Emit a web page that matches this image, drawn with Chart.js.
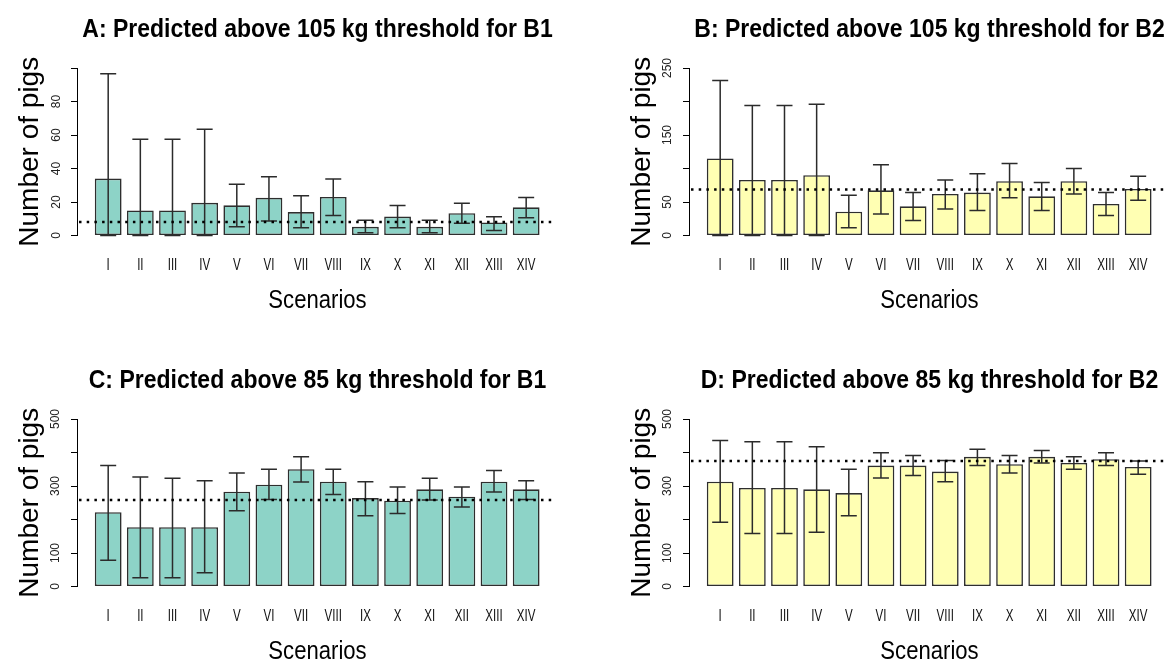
<!DOCTYPE html>
<html>
<head>
<meta charset="utf-8">
<script src="https://cdn.jsdelivr.net/npm/chart.js@4.4.1/dist/chart.umd.min.js"></script>
<style>
  html, body { margin: 0; padding: 0; background: #fff; overflow: hidden; }
  body { width: 1168px; height: 666px; position: relative; }
  canvas { position: absolute; }
</style>
</head>
<body>
<canvas id="chartA" width="612" height="351" style="left:0;top:0"></canvas>
<canvas id="chartB" width="612" height="351" style="left:612px;top:0"></canvas>
<canvas id="chartC" width="612" height="351" style="left:0;top:351px"></canvas>
<canvas id="chartD" width="612" height="351" style="left:612px;top:351px"></canvas>
<script>
// scenarios on the x axis
const scenarios = ['I', 'II', 'III', 'IV', 'V', 'VI', 'VII', 'VIII', 'IX', 'X', 'XI', 'XII', 'XIII', 'XIV'];

// A: above 105 kg, B1
const meanA = [34, 15, 15, 19.5, 18, 22.5, 14, 23, 5.2, 11.3, 5.2, 13.3, 7.8, 16.8];
const lowA  = [0, 0, 0, 0, 5.2, 8.7, 4.6, 12, 1.6, 4.6, 1.6, 7.3, 3, 10.6];
const highA = [96.5, 57.5, 57.5, 63.5, 30.6, 35.1, 23.8, 33.7, 9.1, 17.9, 9.1, 19.3, 11.2, 22.7];
const thrA = 8;

// B: above 105 kg, B2
const meanB = [115, 83, 83, 90, 35.5, 67.5, 43.5, 62, 64, 81, 58.5, 81, 47, 69.5];
const lowB  = [0, 0, 0, 0, 11.5, 32, 22.5, 39.5, 37.5, 56.5, 37.5, 62, 30, 52.5];
const highB = [231.5, 194, 194, 196, 60, 105.5, 64, 83, 92, 107.5, 79, 100, 64, 88.5];
const thrB = 68.5;

// C: above 85 kg, B1
const meanC = [222, 177, 177, 177, 283, 304, 350, 313, 264, 256, 290, 268, 313, 290];
const lowC  = [78, 26, 26, 41, 226, 260, 312, 275, 211, 218, 258, 237, 282, 260];
const highC = [361, 327, 323, 316, 339, 350, 387, 350, 313, 297, 323, 297, 346, 316];
const thrC = 258;

// D: above 85 kg, B2
const meanD = [313, 294, 294, 290, 279, 361, 361, 343, 387, 365, 387, 369, 380, 357];
const lowD  = [192, 158, 158, 162, 211, 324, 331, 313, 361, 339, 369, 350, 361, 335];
const highD = [436, 432, 432, 417, 350, 399, 391, 376, 410, 391, 406, 387, 399, 375];
const thrD = 375;

// y ticks (R drops labels that would overlap)
const yTicksA = [0, 20, 40, 60, 80, 100];
const yLabelsA = ['0', '20', '40', '60', '80', ''];
const yTicksB = [0, 50, 100, 150, 200, 250];
const yLabelsB = ['0', '50', '', '150', '', '250'];
const yTicksCD = [0, 100, 200, 300, 400, 500];
const yLabelsCD = ['0', '100', '', '300', '', '500'];

const regular = '"Liberation Sans", Arial, sans-serif';

// no narrow font installed, so squeeze horizontal text by hand
function squeezedText(ctx, text, x, y, font, sx) {
  ctx.save();
  ctx.font = font;
  ctx.textAlign = 'center';
  ctx.textBaseline = 'middle';
  ctx.translate(x, y);
  ctx.scale(sx, 1);
  ctx.fillText(text, 0, 0);
  ctx.restore();
}

// error bars, threshold line, x labels and panel title
const extras = {
  id: 'extras',
  afterDatasetsDraw(chart, args, opts) {
    const { ctx, chartArea, scales: { y } } = chart;
    const meta = chart.getDatasetMeta(0);
    ctx.save();
    ctx.strokeStyle = '#2b2b2b';
    ctx.lineWidth = 1.5;
    meta.data.forEach((bar, i) => {
      const lo = y.getPixelForValue(opts.low[i]);
      const hi = y.getPixelForValue(opts.high[i]);
      ctx.beginPath();
      ctx.moveTo(bar.x, lo); ctx.lineTo(bar.x, hi);
      ctx.moveTo(bar.x - 8, hi); ctx.lineTo(bar.x + 8, hi);
      ctx.moveTo(bar.x - 8, lo); ctx.lineTo(bar.x + 8, lo);
      ctx.stroke();
    });
    const ty = y.getPixelForValue(opts.threshold);
    ctx.strokeStyle = '#000';
    ctx.lineWidth = 2.5;
    ctx.setLineDash([2.5, 5.2]);
    ctx.beginPath();
    ctx.moveTo(chartArea.left + 2, ty);
    ctx.lineTo(chartArea.right + 3, ty);
    ctx.stroke();
    ctx.restore();
  },
  afterDraw(chart, args, opts) {
    const { ctx, chartArea, scales: { x } } = chart;
    ctx.save();
    ctx.fillStyle = '#111';
    x.ticks.forEach((t, i) => {
      squeezedText(ctx, scenarios[i], x.getPixelForValue(t.value), chartArea.bottom + 30, '16.5px ' + regular, 0.7);
    });
    ctx.fillStyle = '#000';
    const mid = (chartArea.left + chartArea.right) / 2 + 3;
    squeezedText(ctx, 'Scenarios', mid, chartArea.bottom + 65, '26px ' + regular, 0.85);
    squeezedText(ctx, opts.title, mid, 30, 'bold 25px ' + regular, 0.92);
    ctx.restore();
  }
};

function makePanel(id, title, mean, low, high, thr, yTicks, yLabels, fill, tickPad) {
  new Chart(document.getElementById(id), {
    type: 'bar',
    data: {
      datasets: [{
        data: mean.map((v, i) => ({ x: 0.7 + 1.2 * i, y: v })),
        backgroundColor: fill,
        borderColor: '#2e2e2e',
        borderWidth: 1.6,
        borderSkipped: false,
        barPercentage: 0.8333,
        categoryPercentage: 1
      }]
    },
    options: {
      responsive: false,
      animation: false,
      layout: { padding: { top: 68, right: 60, left: 0, bottom: 0 } },
      plugins: {
        legend: { display: false },
        tooltip: { enabled: false },
        extras: { title: title, low: low, high: high, threshold: thr }
      },
      scales: {
        x: {
          type: 'linear',
          offset: false,
          min: -0.464,
          max: 17.264,
          afterBuildTicks: s => { s.ticks = scenarios.map((_, i) => ({ value: 0.7 + 1.2 * i })); },
          afterFit: s => { s.height = 115.5; },
          grid: { display: false, drawTicks: false },
          border: { display: false },
          ticks: { display: false, autoSkip: false }
        },
        y: {
          min: 0,
          max: yTicks[yTicks.length - 1],
          afterBuildTicks: s => { s.ticks = yTicks.map(v => ({ value: v })); },
          afterFit: s => { s.width = 77; },
          grid: { display: true, drawOnChartArea: false, drawTicks: true, tickLength: 6, color: '#000', lineWidth: 1 },
          border: { display: true, color: '#000', width: 1 },
          ticks: {
            autoSkip: false, minRotation: 90, maxRotation: 90, crossAlign: 'center',
            padding: tickPad, color: '#222',
            font: { family: regular, size: 12 },
            callback: (v, i) => yLabels[i]
          },
          title: {
            display: true, text: 'Number of pigs', color: '#000',
            font: { family: regular, size: 28 },
            padding: { top: 13, bottom: 0 }
          }
        }
      }
    },
    plugins: [extras]
  });
}

makePanel('chartA', 'A: Predicted above 105 kg threshold for B1', meanA, lowA, highA, thrA, yTicksA, yLabelsA, '#8dd3c7', 8);
makePanel('chartB', 'B: Predicted above 105 kg threshold for B2', meanB, lowB, highB, thrB, yTicksB, yLabelsB, '#ffffb3', 5);
makePanel('chartC', 'C: Predicted above 85 kg threshold for B1', meanC, lowC, highC, thrC, yTicksCD, yLabelsCD, '#8dd3c7', 5);
makePanel('chartD', 'D: Predicted above 85 kg threshold for B2', meanD, lowD, highD, thrD, yTicksCD, yLabelsCD, '#ffffb3', 5);
</script>
</body>
</html>
